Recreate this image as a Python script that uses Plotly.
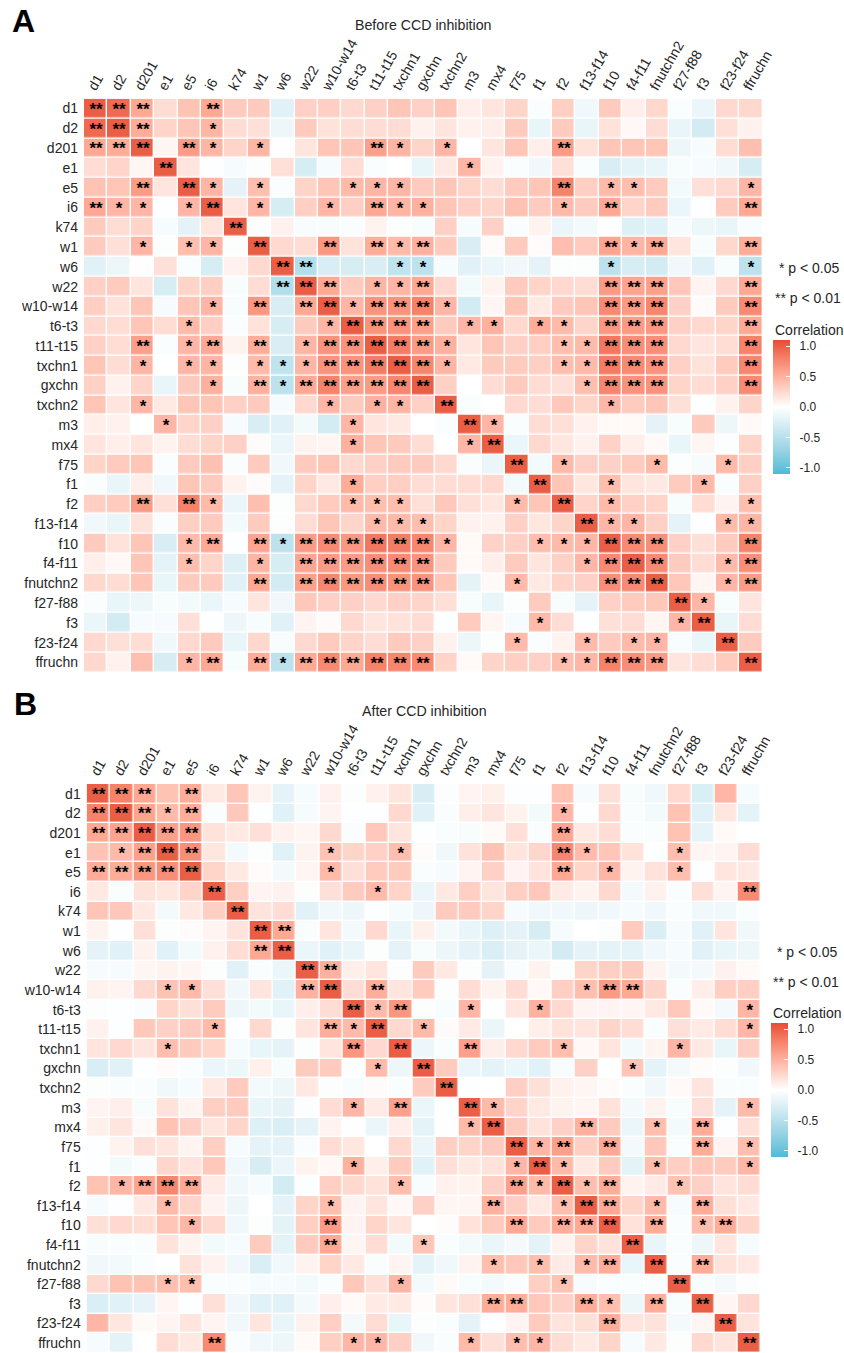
import plotly.graph_objects as go

labels = ["d1","d2","d201","e1","e5","i6","k74","w1","w6","w22","w10-w14","t6-t3","t11-t15","txchn1","gxchn",
          "txchn2","m3","mx4","f75","f1","f2","f13-f14","f10","f4-f11","fnutchn2","f27-f88","f3","f23-f24","ffruchn"]

# Upper triangle correlations: each row starts just after the diagonal
before_upper = [
 [.85,.5,.2,.35,.5,.3,.3,-.2,.27,.28,.22,.27,.33,.27,.33,.1,.15,.25,-.03,.28,-.1,.3,.1,.23,-.03,-.13,.22,.23],
 [.48,.25,.33,.42,.2,.18,-.12,.3,.17,.2,.2,.2,.08,.15,.08,.1,.3,-.15,.3,-.15,.17,.04,.2,-.15,-.28,.18,.08],
 [.05,.57,.42,.25,.42,.01,.15,.33,.33,.55,.43,.25,.42,0,.15,.33,.1,.58,.17,.33,.33,.33,-.12,-.06,.2,.37],
 [.15,-.01,-.06,-.02,.18,-.27,-.06,.2,-.04,0,-.15,.13,.42,.07,-.04,-.1,.18,-.03,-.25,-.18,-.15,-.05,-.06,-.1,-.27],
 [.42,-.17,.38,-.04,.25,.33,.4,.42,.42,.3,.33,.25,.2,.3,.33,.72,.28,.4,.38,.3,-.08,.18,.22,.42],
 [.15,.42,-.27,.28,.42,.28,.5,.43,.45,.33,.27,.25,.36,.3,.4,.3,.5,.25,.3,-.13,-.01,.3,.5],
 [-.02,.08,-.05,-.05,-.03,.07,-.02,-.05,.27,-.06,.27,-.04,.07,-.14,-.08,-.01,-.22,-.2,-.06,-.12,-.15,-.05],
 [.22,.2,.6,.17,.48,.4,.45,.3,-.25,.02,.3,.02,.37,.3,.52,.43,.5,.15,-.05,.23,.48],
 [-.48,-.25,-.27,-.25,-.4,-.42,-.06,-.2,-.14,-.1,-.17,-.02,-.02,-.42,-.27,-.28,-.1,-.2,-.05,-.42],
 [.5,.3,.43,.42,.5,.22,-.08,.07,.3,.25,.22,.2,.58,.52,.55,.32,.06,.22,.5],
 [.42,.62,.62,.72,.42,-.28,.05,.33,.13,.3,.33,.68,.58,.7,.27,.02,.3,.68],
 [.63,.63,.55,.3,.42,.45,.22,.48,.4,.25,.6,.58,.6,.27,.22,.25,.5],
 [.75,.58,.45,.15,.33,.27,.28,.38,.4,.78,.65,.65,.22,.15,.2,.72],
 [.7,.43,.13,.3,.3,.28,.38,.4,.75,.68,.63,.27,.17,.3,.7],
 [.27,0,.2,.3,.2,.18,.37,.7,.62,.62,.25,.2,.27,.68],
 [-.03,0,.22,.2,.32,.25,.42,.3,.33,.18,-.01,.08,.25],
 [.42,-.04,.2,.18,.08,.03,.03,-.17,-.05,.3,-.12,.03],
 [-.14,.22,.14,.08,.26,.1,.03,-.15,.05,-.02,.25],
 [-.08,.4,.27,.27,.3,.4,-.02,-.06,.4,.28],
 [.33,.14,.38,.15,.13,.3,.4,-.03,.27],
 [.25,.4,.27,.25,-.05,.2,.07,.38],
 [.42,.42,.27,-.17,-.01,.4,.42],
 [.68,.65,.27,.18,.3,.72],
 [.68,.3,.2,.4,.65],
 [.32,.05,.42,.58],
 [.42,-.05,.15],
 [-.15,.2],
 [.3],
]

after_upper = [
 [.72,.5,.35,.48,.13,.33,.07,-.17,-.06,.08,-.02,.08,.15,-.25,-.02,.06,.09,-.01,-.01,.35,-.06,.18,-.05,-.1,.22,-.24,.42,-.06],
 [.53,.4,.48,-.03,.32,-.01,-.2,-.06,.06,-.01,-.01,.22,-.2,-.03,.1,.15,.07,-.08,.42,-.01,.22,-.03,-.08,.35,-.2,.14,-.18],
 [.55,.6,.17,.13,.18,.08,.05,.22,-.03,.32,.15,-.01,-.03,-.05,.03,.18,-.03,.52,.13,.2,-.03,-.04,.35,-.16,.03,0],
 [.65,.14,-.08,-.02,-.2,.07,.35,.25,.27,.38,.02,-.1,.17,.35,.15,.24,.7,.4,.33,.17,-.01,.38,.05,.06,.2],
 [.25,.13,.02,-.08,.05,.4,.18,.3,.3,-.04,-.06,.06,.27,.06,.16,.5,.25,.42,.07,.17,.38,-.01,.15,.13],
 [.28,.06,.08,-.02,.18,.3,.4,.25,-.13,.13,.28,.15,.28,.32,.12,.07,.22,-.08,.08,-.04,.18,.06,.68],
 [.16,.2,-.2,-.1,-.12,-.01,-.06,-.12,.3,.3,.25,-.06,-.1,-.1,-.12,-.1,-.06,-.1,-.03,-.1,-.1,-.04],
 [.5,-.03,.15,-.08,.22,-.15,.09,-.08,-.15,-.22,-.17,-.27,-.06,0,-.02,.3,-.24,-.06,-.2,.15,-.1],
 [-.13,-.2,-.15,-.02,-.17,-.05,-.12,-.17,-.24,-.17,-.13,-.28,-.17,-.18,-.18,-.1,-.06,-.2,-.15,-.12],
 [.45,.1,.15,-.02,.3,.13,-.02,-.17,-.03,.07,-.02,.25,.28,.3,.07,-.08,-.07,.08,.03],
 [.2,.47,.15,.3,-.02,.2,.07,.2,.04,.28,.38,.58,.5,.25,-.04,.1,.28,.28],
 [.4,.6,-.02,-.05,.42,-.01,.14,.45,.22,.06,.06,.05,.13,.32,.03,-.07,.42],
 [.22,.4,.02,.12,-.13,0,.1,.17,.15,.25,.2,-.03,.18,.12,.2,.42],
 [-.12,-.03,.55,.1,.22,.3,.38,.04,.15,-.08,.06,.42,.13,-.15,.28],
 [.3,-.13,-.18,-.13,-.2,-.05,.27,0,.33,-.18,-.07,.02,-.02,-.1],
 [-.01,0,.28,.18,.08,.05,.02,-.03,-.1,.03,.15,-.03,-.04],
 [.4,.25,.13,.07,.05,.17,-.08,.07,-.05,.18,-.17,.4],
 [.3,.17,.27,.45,.3,-.13,.38,-.08,.48,-.01,.18],
 [.42,.55,.28,.5,-.07,.32,-.03,.48,.06,.38],
 [.4,.13,.3,-.18,.38,.28,.32,.3,.42],
 [.38,.48,.07,.12,.35,.27,.16,.2],
 [.5,.25,.4,-.06,.48,.18,.13],
 [.17,.48,-.04,.38,.48,.25],
 [-.15,-.03,-.12,.15,-.06],
 [-.03,.48,.17,.13],
 [-.05,-.07,-.02],
 [.05,.22],
 [.16],
]

# Significance (each pair listed once, mirrored when drawn; the diagonal is always **)
before_two = {
 "d1":["d2","d201","i6"], "d2":["d201"], "d201":["e5","t11-t15","f2"], "e5":["f2"],
 "i6":["t11-t15","f10","ffruchn"], "w1":["w10-w14","t11-t15","gxchn","f10","fnutchn2","ffruchn"], "w6":["w22"],
 "w22":["w10-w14","gxchn","f10","f4-f11","fnutchn2","ffruchn"],
 "w10-w14":["t11-t15","txchn1","gxchn","f10","f4-f11","fnutchn2","ffruchn"],
 "t6-t3":["t11-t15","txchn1","gxchn","f10","f4-f11","fnutchn2","ffruchn"],
 "t11-t15":["txchn1","gxchn","f10","f4-f11","fnutchn2","ffruchn"],
 "txchn1":["gxchn","f10","f4-f11","fnutchn2","ffruchn"],
 "gxchn":["f10","f4-f11","fnutchn2","ffruchn"],
 "f10":["f4-f11","fnutchn2","ffruchn"], "f4-f11":["fnutchn2","ffruchn"], "fnutchn2":["ffruchn"],
}
before_one = {
 "d2":["i6"], "d201":["i6","w1","txchn1","txchn2"], "e1":["m3"],
 "e5":["i6","w1","t6-t3","t11-t15","txchn1","f10","f4-f11","ffruchn"],
 "i6":["w1","w10-w14","txchn1","gxchn","f2"], "w1":["txchn1","f4-f11"],
 "w6":["txchn1","gxchn","f10","ffruchn"], "w22":["t11-t15","txchn1"], "w10-w14":["t6-t3","txchn2"],
 "t6-t3":["m3","mx4","f1","f2"], "t11-t15":["txchn2","f2","f13-f14"], "txchn1":["txchn2","f2","f13-f14"],
 "gxchn":["f13-f14"], "txchn2":["f10"], "m3":["mx4"], "f75":["f2","fnutchn2","f23-f24"], "f1":["f10","f3"],
 "f2":["f10","ffruchn"], "f13-f14":["f10","f4-f11","f23-f24","ffruchn"], "f4-f11":["f23-f24"],
 "fnutchn2":["f23-f24"], "f27-f88":["f3"],
}
after_two = {
 "d1":["d2","d201","e5"], "d2":["d201","e5"], "d201":["e1","e5","f2"], "e1":["e5","f2"], "e5":["f2"],
 "i6":["ffruchn"], "w1":["w6"], "w22":["w10-w14"], "w10-w14":["t11-t15","f10","f4-f11"], "t6-t3":["txchn1"],
 "txchn1":["m3"], "mx4":["f13-f14","f3"], "f75":["f2","f10","f3"], "f2":["f10"], "f13-f14":["f10","f3"],
 "f10":["fnutchn2","f23-f24"], "fnutchn2":["f3"],
}
after_one = {
 "d2":["e1","f2"], "e1":["w10-w14","txchn1","f13-f14","f27-f88"], "e5":["w10-w14","f10","f27-f88"],
 "i6":["t11-t15"], "w10-w14":["f13-f14"], "t6-t3":["t11-t15","m3","f1","ffruchn"], "t11-t15":["gxchn","ffruchn"],
 "txchn1":["f2","f27-f88"], "gxchn":["f4-f11"], "m3":["mx4","ffruchn"], "mx4":["fnutchn2"],
 "f75":["f1","ffruchn"], "f1":["f2","fnutchn2","ffruchn"], "f2":["f13-f14","f27-f88"],
 "f13-f14":["fnutchn2"], "f10":["f3"],
}

legend_ticks = [-1, -0.5, 0, 0.5, 1]
legend_text = ["-1.0", "-0.5", "0.0", "0.5", "1.0"]
W, H = 844, 1353
COLOUR_GAIN = 1.1  # my colour reading of the cells ran slightly pale


def full(upper):
    n = len(labels)
    m = [[1.0] * n for _ in range(n)]
    for i, row in enumerate(upper):
        assert len(row) == n - 1 - i, (i, len(row))
        for k, v in enumerate(row):
            m[i][i + 1 + k] = v * COLOUR_GAIN
            m[i + 1 + k][i] = v * COLOUR_GAIN
    return m


def stars(two, one):
    n = len(labels)
    s = [[""] * n for _ in range(n)]
    for i in range(n):
        s[i][i] = "**"
    for d, mark in ((two, "**"), (one, "*")):
        for a, bs in d.items():
            for b in bs:
                i, j = labels.index(a), labels.index(b)
                s[i][j] = mark
                s[j][i] = mark
    return s


# Lab-space gradient, as the original colour scale uses
def to_lab(c):
    rgb = [int(c[i:i + 2], 16) / 255 for i in (1, 3, 5)]
    l = [v / 12.92 if v <= .04045 else ((v + .055) / 1.055) ** 2.4 for v in rgb]
    x = (.4124 * l[0] + .3576 * l[1] + .1805 * l[2]) / .95047
    y = .2126 * l[0] + .7152 * l[1] + .0722 * l[2]
    z = (.0193 * l[0] + .1192 * l[1] + .9505 * l[2]) / 1.08883
    f = lambda t: t ** (1 / 3) if t > .008856 else 7.787 * t + 16 / 116
    return 116 * f(y) - 16, 500 * (f(x) - f(y)), 200 * (f(y) - f(z))


def from_lab(L, a, b):
    fy = (L + 16) / 116
    g = lambda t: t ** 3 if t ** 3 > .008856 else (t - 16 / 116) / 7.787
    x, y, z = .95047 * g(fy + a / 500), g(fy), 1.08883 * g(fy - b / 200)
    l = [3.2406 * x - 1.5372 * y - .4986 * z, -.9689 * x + 1.8758 * y + .0415 * z, .0557 * x - .204 * y + 1.057 * z]
    out = []
    for v in l:
        v = max(0, min(1, v))
        v = 12.92 * v if v <= .0031308 else 1.055 * v ** (1 / 2.4) - .055
        out.append(round(v * 255))
    return "rgb(%d,%d,%d)" % tuple(out)


LOW, MID, HIGH = to_lab("#4DBBD5"), to_lab("#FFFFFF"), to_lab("#E64B35")
scale = []
for k in range(41):
    t = k / 40
    a, b, u = (LOW, MID, t * 2) if t <= .5 else (MID, HIGH, t * 2 - 1)
    scale.append([t, from_lab(*[a[i] + (b[i] - a[i]) * u for i in range(3)])])

FONT = "Liberation Sans"
TXT = "#262626"


def heat(mat, txt, xa, ya, cb_left, cb_top):
    return go.Heatmap(
        z=mat, x=labels, y=labels, text=txt, texttemplate="%{text}",
        textfont=dict(family=FONT, size=17, color="#000000", weight="bold"),
        xaxis=xa, yaxis=ya, xgap=1.4, ygap=1.4, zmin=-1.1, zmax=1.1, colorscale=scale,
        hoverinfo="skip",
        colorbar=dict(
            x=cb_left / W, xanchor="left", y=1 - cb_top / H, yanchor="top",
            thicknessmode="pixels", thickness=17, lenmode="pixels", len=133.5, xpad=0, ypad=0,
            outlinewidth=0, tickvals=legend_ticks, ticktext=["\u00a0\u00a0" + s for s in legend_text], ticks="inside",
            tickcolor="white", ticklen=4, tickwidth=1,
            tickfont=dict(family=FONT, size=12, color=TXT)),
    )


fig = go.Figure([
    heat(full(before_upper), stars(before_two, before_one), "x", "y", 773, 340),
    heat(full(after_upper), stars(after_two, after_one), "x2", "y2", 771, 1023),
])

common = dict(showgrid=False, zeroline=False, showline=False, type="category",
              categoryorder="array", categoryarray=labels, automargin=False,
              tickfont=dict(family=FONT, size=14, color=TXT))
xcommon = dict(common, ticks="", side="top", tickangle=-60, range=[-.5, 28.5], ticklabelshift=-6)
ycommon = dict(common, ticks="", range=[28.5, -.5], ticklabelstandoff=5)
fig.update_layout(
    width=W, height=H, margin=dict(l=0, r=0, t=0, b=0), paper_bgcolor="white", plot_bgcolor="white",
    xaxis=dict(xcommon, domain=[84 / W, 762.7 / W], anchor="y"),
    yaxis=dict(ycommon, domain=[1 - 672.3 / H, 1 - 98.7 / H], anchor="x"),
    xaxis2=dict(xcommon, domain=[86.7 / W, 761 / W], anchor="y2"),
    yaxis2=dict(ycommon, domain=[0, 1 - 784 / H], anchor="x2"),
)


def note(text, x, y, size=14, anchor="left", bold=False, color=TXT):
    fig.add_annotation(text=("<b>%s</b>" % text) if bold else text, x=x / W, y=1 - y / H, xref="paper", yref="paper",
                       xanchor=anchor, yanchor="middle", showarrow=False,
                       font=dict(family=FONT, size=size, color=color))


note("A", 10, 21, 32, bold=True, color="black")
note("B", 12, 704, 32, bold=True, color="black")
note("Before CCD inhibition", 423, 25, 14.2, "center")
note("After CCD inhibition", 424, 711, 14.2, "center")
note("* p &lt; 0.05", 777, 268)
note("** p &lt; 0.01", 773, 298)
note("Correlation", 773, 330)
note("* p &lt; 0.05", 775, 952)
note("** p &lt; 0.01", 771, 982)
note("Correlation", 771, 1013)

fig.write_html("out.html", config=dict(displayModeBar=False),
               post_script="document.body.style.margin='0';document.body.style.overflow='hidden';")
